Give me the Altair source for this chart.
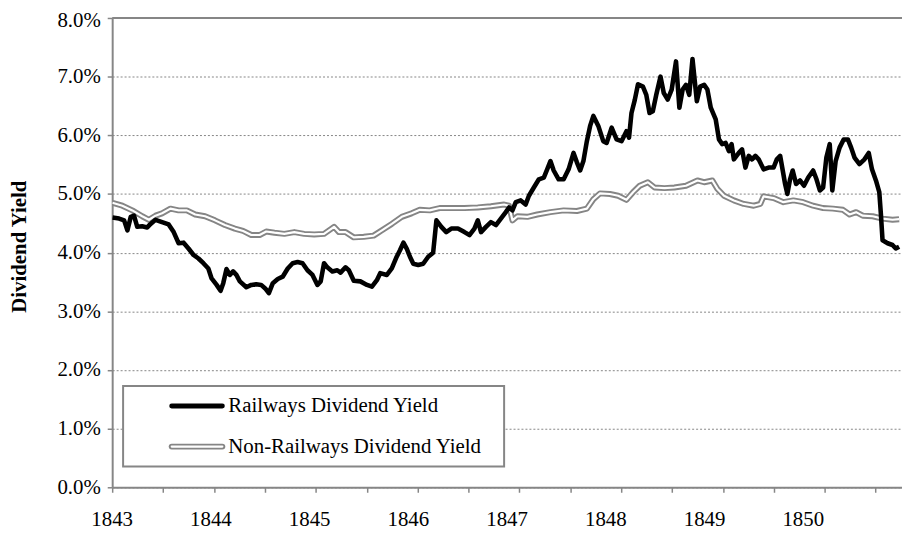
import altair as alt
import pandas as pd

series_names = ["Railways Dividend Yield", "Non-Railways Dividend Yield"]

rail_year = [
    1843.003, 1843.070, 1843.121, 1843.154, 1843.188, 1843.221, 1843.254, 1843.304, 1843.355, 1843.389,
    1843.439, 1843.505, 1843.572, 1843.623, 1843.673, 1843.723, 1843.773, 1843.824, 1843.874, 1843.924,
    1843.974, 1844.007, 1844.058, 1844.098, 1844.125, 1844.158, 1844.192, 1844.225, 1844.258, 1844.293,
    1844.359, 1844.409, 1844.459, 1844.509, 1844.550, 1844.587, 1844.627, 1844.677, 1844.727, 1844.778,
    1844.828, 1844.878, 1844.928, 1844.978, 1845.029, 1845.079, 1845.112, 1845.146, 1845.179, 1845.230,
    1845.280, 1845.313, 1845.363, 1845.397, 1845.447, 1845.514, 1845.581, 1845.631, 1845.681, 1845.715,
    1845.782, 1845.832, 1845.882, 1845.915, 1845.950, 1845.983, 1846.016, 1846.050, 1846.100, 1846.150,
    1846.201, 1846.251, 1846.284, 1846.334, 1846.384, 1846.435, 1846.502, 1846.568, 1846.619, 1846.669,
    1846.703, 1846.736, 1846.786, 1846.836, 1846.887, 1846.937, 1846.987, 1847.020, 1847.054, 1847.088,
    1847.138, 1847.188, 1847.221, 1847.271, 1847.322, 1847.372, 1847.406, 1847.439, 1847.472, 1847.522,
    1847.573, 1847.623, 1847.673, 1847.707, 1847.740, 1847.773, 1847.808, 1847.841, 1847.874, 1847.924,
    1847.974, 1848.008, 1848.059, 1848.109, 1848.159, 1848.209, 1848.235, 1848.260, 1848.293, 1848.326,
    1848.376, 1848.410, 1848.443, 1848.476, 1848.511, 1848.554, 1848.587, 1848.627, 1848.667, 1848.711,
    1848.745, 1848.778, 1848.812, 1848.845, 1848.878, 1848.922, 1848.956, 1848.996, 1849.029, 1849.063,
    1849.113, 1849.146, 1849.179, 1849.213, 1849.247, 1849.274, 1849.297, 1849.347, 1849.380, 1849.414,
    1849.448, 1849.481, 1849.515, 1849.548, 1849.598, 1849.648, 1849.699, 1849.732, 1849.766, 1849.792,
    1849.816, 1849.839, 1849.866, 1849.893, 1849.927, 1849.967, 1850.007, 1850.050, 1850.100, 1850.134,
    1850.168, 1850.201, 1850.234, 1850.268, 1850.294, 1850.328, 1850.368, 1850.409, 1850.452, 1850.485,
    1850.519, 1850.569, 1850.620, 1850.663, 1850.696, 1850.736, 1850.770, 1850.786, 1850.803, 1850.854,
    1850.904, 1850.937, 1850.971,
]
rail_yield = [
    4.60, 4.58, 4.55, 4.38, 4.61, 4.63, 4.44, 4.45, 4.43, 4.49,
    4.56, 4.52, 4.48, 4.35, 4.16, 4.17, 4.07, 3.96, 3.90, 3.82,
    3.73, 3.56, 3.45, 3.35, 3.48, 3.72, 3.62, 3.68, 3.62, 3.51,
    3.41, 3.45, 3.46, 3.45, 3.39, 3.31, 3.48, 3.55, 3.59, 3.73,
    3.82, 3.84, 3.82, 3.70, 3.62, 3.45, 3.51, 3.82, 3.75, 3.68,
    3.70, 3.66, 3.75, 3.70, 3.52, 3.51, 3.45, 3.42, 3.53, 3.65,
    3.62, 3.73, 3.93, 4.04, 4.17, 4.07, 3.93, 3.81, 3.79, 3.81,
    3.93, 4.00, 4.55, 4.44, 4.35, 4.41, 4.41, 4.35, 4.30, 4.41,
    4.55, 4.35, 4.44, 4.52, 4.47, 4.58, 4.69, 4.77, 4.72, 4.86,
    4.89, 4.82, 4.97, 5.11, 5.25, 5.28, 5.42, 5.56, 5.40, 5.25,
    5.25, 5.42, 5.70, 5.54, 5.40, 5.56, 5.90, 6.16, 6.33, 6.16,
    5.90, 5.87, 6.13, 5.93, 5.90, 6.07, 5.96, 6.38, 6.60, 6.87,
    6.83, 6.69, 6.38, 6.41, 6.69, 7.00, 6.72, 6.61, 6.78, 7.26,
    6.47, 6.78, 6.86, 6.69, 7.30, 6.58, 6.83, 6.86, 6.78, 6.47,
    6.27, 5.93, 5.85, 5.87, 5.73, 5.85, 5.59, 5.70, 5.76, 5.45,
    5.65, 5.59, 5.65, 5.59, 5.42, 5.45, 5.45, 5.59, 5.65, 5.40,
    5.17, 5.00, 5.25, 5.40, 5.17, 5.23, 5.14, 5.28, 5.40, 5.25,
    5.06, 5.11, 5.62, 5.85, 5.06, 5.56, 5.79, 5.93, 5.93, 5.79,
    5.62, 5.51, 5.59, 5.70, 5.42, 5.23, 5.03, 4.66, 4.21, 4.16,
    4.13, 4.07, 4.10,
]

nonrail_year = [
    1843.003, 1843.103, 1843.204, 1843.304, 1843.372, 1843.439, 1843.505, 1843.590, 1843.673, 1843.756,
    1843.841, 1843.941, 1844.041, 1844.142, 1844.242, 1844.326, 1844.409, 1844.493, 1844.560, 1844.644,
    1844.744, 1844.845, 1844.945, 1845.046, 1845.146, 1845.247, 1845.297, 1845.363, 1845.447, 1845.548,
    1845.648, 1845.732, 1845.832, 1845.933, 1846.033, 1846.116, 1846.217, 1846.317, 1846.435, 1846.568,
    1846.703, 1846.836, 1846.970, 1847.020, 1847.054, 1847.105, 1847.205, 1847.305, 1847.439, 1847.573,
    1847.707, 1847.808, 1847.874, 1847.941, 1848.042, 1848.125, 1848.209, 1848.276, 1848.343, 1848.426,
    1848.494, 1848.594, 1848.694, 1848.812, 1848.928, 1848.996, 1849.079, 1849.129, 1849.197, 1849.297,
    1849.397, 1849.498, 1849.565, 1849.598, 1849.699, 1849.799, 1849.900, 1850.000, 1850.100, 1850.201,
    1850.301, 1850.402, 1850.469, 1850.535, 1850.603, 1850.703, 1850.803, 1850.904, 1850.971,
]
nonrail_yield = [
    4.85, 4.80, 4.72, 4.62, 4.56, 4.63, 4.67, 4.75, 4.72, 4.72,
    4.65, 4.62, 4.55, 4.47, 4.41, 4.37, 4.30, 4.30, 4.36, 4.34,
    4.32, 4.35, 4.32, 4.31, 4.32, 4.44, 4.35, 4.35, 4.26, 4.27,
    4.29, 4.38, 4.49, 4.61, 4.67, 4.73, 4.72, 4.76, 4.76, 4.76,
    4.77, 4.79, 4.82, 4.80, 4.55, 4.62, 4.61, 4.65, 4.69, 4.72,
    4.71, 4.75, 4.91, 5.01, 5.00, 4.97, 4.90, 5.03, 5.14, 5.20,
    5.11, 5.10, 5.11, 5.14, 5.23, 5.20, 5.23, 5.09, 4.97, 4.89,
    4.83, 4.80, 4.83, 4.96, 4.93, 4.86, 4.89, 4.86, 4.80, 4.76,
    4.75, 4.73, 4.65, 4.69, 4.63, 4.62, 4.58, 4.56, 4.57,
]

year_labels = [1843, 1844, 1845, 1846, 1847, 1848, 1849, 1850]
x_tick_years = [1843.000, 1843.516, 1844.031, 1844.547, 1845.062, 1845.578, 1846.093, 1846.609,
                1847.124, 1847.640, 1848.155, 1848.671, 1849.186, 1849.702, 1850.217, 1850.733]
y_ticks = [0, 1, 2, 3, 4, 5, 6, 7, 8]

W, H = 796, 473
GREY = "#868686"
LINE_GREY = "#858585"
FONT = "Liberation Serif, Times New Roman, serif"
FS = 21

xs = alt.Scale(domain=[1843, 1851], nice=False, zero=False)
ys = alt.Scale(domain=[0, 8], nice=False, zero=True)

rail = pd.DataFrame({"year": rail_year, "value": rail_yield})
nonrail = pd.DataFrame({"year": nonrail_year, "value": nonrail_yield})
labels_df = pd.DataFrame({"year": year_labels, "label": [str(y) for y in year_labels]})
top_df = pd.DataFrame({"value": [max(y_ticks)]})
one = pd.DataFrame({"k": [0]})

x_axis = alt.Axis(values=x_tick_years, labels=False, ticks=True, tickSize=5, tickColor=GREY,
                  tickWidth=1.5, domainColor=GREY, domainWidth=2, grid=False, title=None)
y_axis = alt.Axis(values=y_ticks, labelExpr="format(datum.value, '.1f') + '%'", labelFont=FONT,
                  labelFontSize=FS, labelColor="black", labelPadding=7, labelFlush=False,
                  labelOffset={"condition": {"test": f"datum.value == {max(y_ticks)}", "value": 3}, "value": 0},
                  tickSize=5, tickColor=GREY, tickWidth=1.5, domainColor=GREY, domainWidth=2,
                  grid=True, gridColor=GREY, gridDash=[2, 2], gridWidth=1,
                  title="Dividend Yield", titleFont=FONT, titleFontSize=FS, titleFontWeight="bold",
                  titleColor="black", titleX=-93, titleY=230, titleBaseline="middle")

X = alt.X("year:Q", scale=xs, axis=x_axis)
Y = alt.Y("value:Q", scale=ys, axis=y_axis)

non_outer = alt.Chart(nonrail).mark_line(color=LINE_GREY, strokeWidth=6, strokeJoin="round", clip=True).encode(x=X, y=Y)
non_inner = alt.Chart(nonrail).mark_line(color="white", strokeWidth=2.2, strokeJoin="round", clip=True).encode(x=X, y=Y)
rail_line = alt.Chart(rail).mark_line(color="black", strokeWidth=4.6, strokeJoin="round", clip=True).encode(x=X, y=Y)
top_rule = alt.Chart(top_df).mark_rule(color=GREY, strokeWidth=2).encode(y=Y)

xlab = alt.Chart(labels_df).mark_text(font=FONT, fontSize=FS, baseline="middle", align="center",
                                      color="black").encode(x=X, y=alt.value(H + 33), text="label:N")

leg_box = alt.Chart(one).mark_rect(fill="white", stroke=GREY, strokeWidth=2).encode(
    x=alt.value(11), x2=alt.value(395), y=alt.value(371), y2=alt.value(452))
leg_rail = alt.Chart(one).mark_rule(color="black", strokeWidth=5, strokeCap="round").encode(
    x=alt.value(60), x2=alt.value(111), y=alt.value(391))
leg_non_o = alt.Chart(one).mark_rule(color=LINE_GREY, strokeWidth=6, strokeCap="round").encode(
    x=alt.value(60), x2=alt.value(111), y=alt.value(432))
leg_non_i = alt.Chart(one).mark_rule(color="white", strokeWidth=2.2, strokeCap="round").encode(
    x=alt.value(60), x2=alt.value(111), y=alt.value(432))
leg_t1 = alt.Chart(one).mark_text(font=FONT, fontSize=FS, align="left", baseline="middle", color="black").encode(
    x=alt.value(117), y=alt.value(391), text=alt.value(series_names[0]))
leg_t2 = alt.Chart(one).mark_text(font=FONT, fontSize=FS, align="left", baseline="middle", color="black").encode(
    x=alt.value(117), y=alt.value(432), text=alt.value(series_names[1]))

chart = alt.layer(
    non_outer, non_inner, rail_line, top_rule, xlab,
    leg_box, leg_rail, leg_non_o, leg_non_i, leg_t1, leg_t2,
).properties(
    width=W, height=H,
    padding={"left": 105, "top": 8, "right": 0, "bottom": 42},
    autosize=alt.AutoSizeParams(type="none"),
).configure_view(stroke=None)

chart.save("out.html", embed_options={"renderer": "svg", "actions": False})
